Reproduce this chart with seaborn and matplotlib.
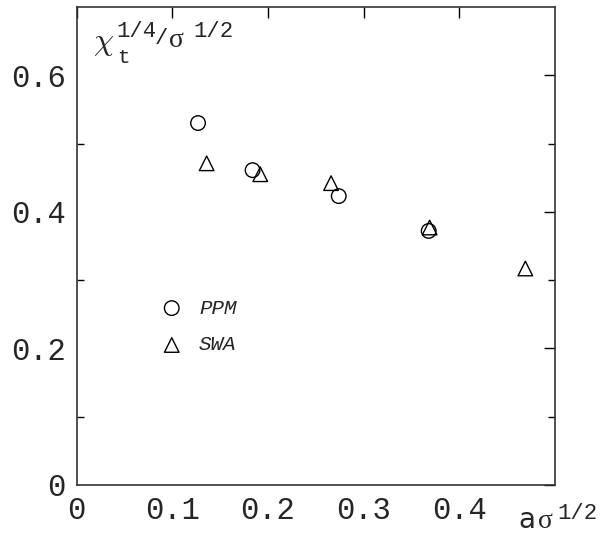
import pandas as pd
import matplotlib
matplotlib.use("Agg")
import matplotlib.pyplot as plt
import seaborn as sns
from matplotlib.ticker import FixedLocator

# data
ppm_x = [0.127, 0.184, 0.274, 0.368]
ppm_y = [0.530, 0.461, 0.423, 0.372]
swa_x = [0.136, 0.192, 0.266, 0.369, 0.469]
swa_y = [0.471, 0.455, 0.442, 0.377, 0.317]

df = pd.DataFrame({
    'x': ppm_x + swa_x,
    'y': ppm_y + swa_y,
    'method': ['PPM'] * len(ppm_x) + ['SWA'] * len(swa_x),
})

sns.set_style('white')
plt.rcParams['font.family'] = ['Liberation Mono', 'DejaVu Sans']
plt.rcParams['mathtext.fontset'] = 'cm'

fig = plt.figure(figsize=(6.01, 5.35), dpi=100)
ax = fig.add_axes([0.1273, 0.0935, 0.7962, 0.8935])

sns.scatterplot(data=df, x='x', y='y', style='method',
                markers={'PPM': 'o', 'SWA': '^'}, s=110,
                facecolor='none', edgecolor='black', linewidth=1.0,
                legend=False, ax=ax)

# legend drawn as in the original: markers with italic labels
ax.scatter([0.0995], [0.259], marker='o', s=110, facecolor='none', edgecolor='black', linewidth=1.0)
ax.scatter([0.0995], [0.205], marker='^', s=110, facecolor='none', edgecolor='black', linewidth=1.0)
ax.text(0.128, 0.259, 'PPM', fontsize=15, style='italic', va='center')
ax.text(0.128, 0.205, 'SWA', fontsize=15, style='italic', va='center')

ax.set_xlim(0, 0.5)
ax.set_ylim(0, 0.7)
ax.xaxis.set_major_locator(FixedLocator([0, 0.1, 0.2, 0.3, 0.4]))
ax.set_xticklabels(['0', '0.1', '0.2', '0.3', '0.4'])
ax.yaxis.set_major_locator(FixedLocator([0, 0.2, 0.4, 0.6]))
ax.set_yticklabels(['0', '0.2', '0.4', '0.6'])
ax.yaxis.set_minor_locator(FixedLocator([0.1, 0.3, 0.5]))

ax.tick_params(axis='both', which='major', direction='in', length=8, width=1,
               labelsize=22, top=True, right=True, color='black')
ax.tick_params(axis='y', which='minor', direction='in', length=5, width=1,
               left=True, right=True, color='black')
ax.tick_params(axis='x', pad=8)
ax.tick_params(axis='y', pad=8)

for sp in ax.spines.values():
    sp.set_color('#333333')
    sp.set_linewidth(1.2)

ax.set_xlabel('')
ax.set_ylabel('')

# y label: chi_t^{1/4} / sigma^{1/2}, set piece by piece
fig.text(0.155, 0.906, r'$\chi$', fontsize=23, va='baseline')
fig.text(0.195, 0.882, 't', fontsize=15, va='baseline')
fig.text(0.193, 0.931, '1/4', fontsize=16, va='baseline')
fig.text(0.258, 0.917, '/', fontsize=16, va='baseline')
fig.text(0.282, 0.912, '\u03c3', fontsize=20, family='Liberation Serif', va='baseline')
fig.text(0.322, 0.931, '1/2', fontsize=16, va='baseline')

# x label: a sigma^{1/2}
fig.text(0.863, 0.014, 'a', fontsize=20, family='DejaVu Sans', va='baseline')
fig.text(0.896, 0.014, '\u03c3', fontsize=20, family='Liberation Serif', va='baseline')
fig.text(0.928, 0.030, '1/2', fontsize=16, va='baseline')

fig.savefig('out.png', dpi=100)
